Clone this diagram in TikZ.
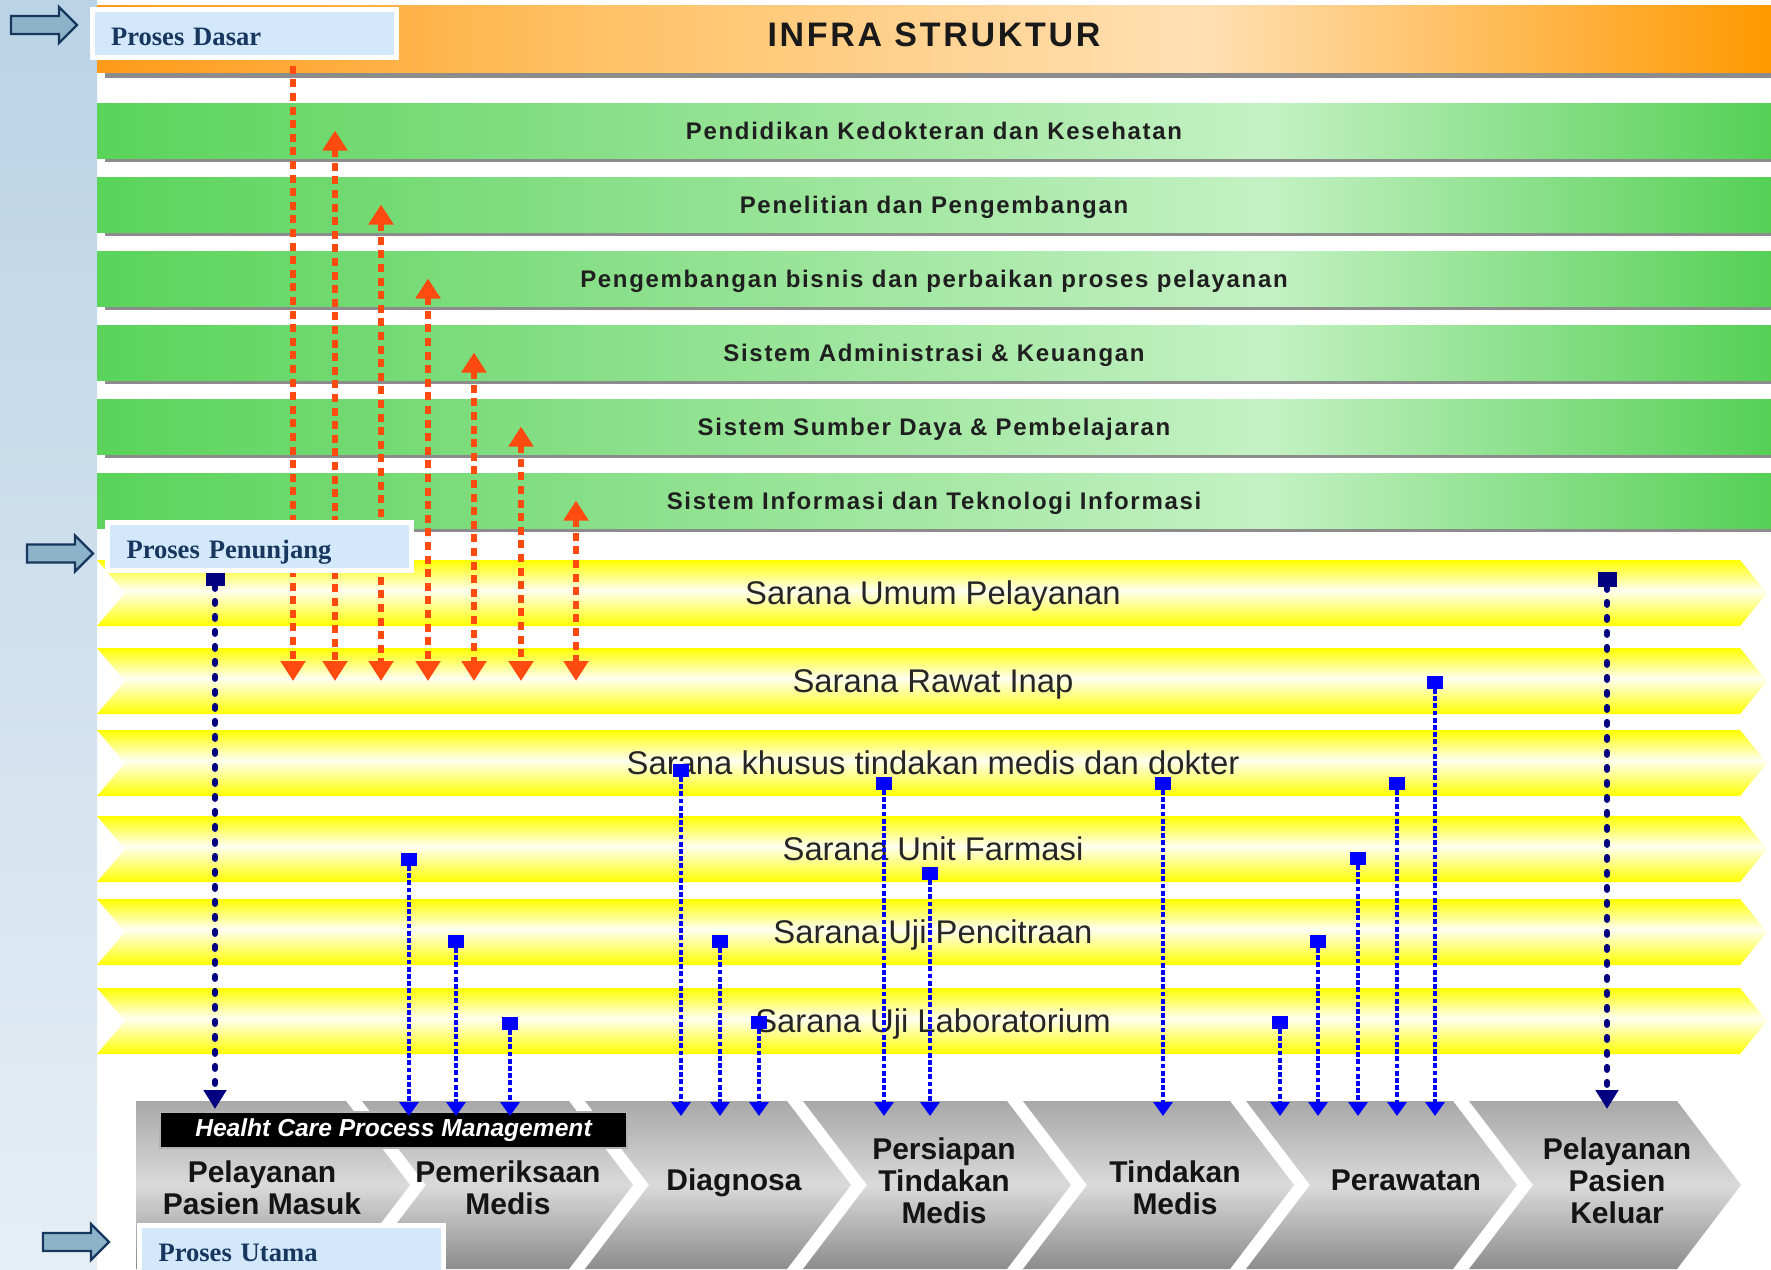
\documentclass[tikz,border=0pt]{standalone}
\usepackage{fontspec}
\setmainfont{Liberation Sans}
\newfontfamily\plainsans{Liberation Sans}
\newfontfamily\spacedsans{Liberation Sans}[LetterSpace=7]
\newfontfamily\infrasans{Liberation Sans}[LetterSpace=8]
\newfontfamily\procserif{Liberation Serif}
\usetikzlibrary{arrows.meta}

\definecolor{panelTop}{HTML}{BAD3E6}
\definecolor{panelBot}{HTML}{E6EEF5}
\definecolor{boxfill}{HTML}{D4E8FB}
\definecolor{navytext}{HTML}{17375E}
\definecolor{arrfill}{HTML}{8DB3C9}
\definecolor{arrline}{HTML}{17375E}
\definecolor{redarr}{HTML}{FF4A10}
\definecolor{navyc}{HTML}{000080}
\definecolor{bluec}{HTML}{0000FF}
\definecolor{shadowc}{HTML}{8C8C8C}
\definecolor{gA}{HTML}{5AD45A}
\definecolor{gB}{HTML}{88DF88}
\definecolor{gC}{HTML}{C4F1C4}
\definecolor{gD}{HTML}{55D055}
\definecolor{oA}{HTML}{FF9A1A}
\definecolor{oB}{HTML}{FFC266}
\definecolor{oC}{HTML}{FFE0B4}
\definecolor{oD}{HTML}{FF9900}
\definecolor{yA}{HTML}{FFFF00}
\definecolor{yM}{HTML}{FFFFF2}
\definecolor{chT}{HTML}{A8A8A8}
\definecolor{chM}{HTML}{DADADA}
\definecolor{chB}{HTML}{8C8C8C}

\pgfdeclarehorizontalshading{greenbar}{100bp}{color(0bp)=(gA); color(25bp)=(gA); color(40bp)=(gB); color(60bp)=(gC); color(75bp)=(gD); color(100bp)=(gD)}
\pgfdeclarehorizontalshading{orangebar}{100bp}{color(0bp)=(oA); color(25bp)=(oA); color(40bp)=(oB); color(58bp)=(oC); color(75bp)=(oD); color(100bp)=(oD)}
\pgfdeclareverticalshading{yellowband}{100bp}{color(0bp)=(yA); color(25bp)=(yA); color(52bp)=(yM); color(75bp)=(yA); color(100bp)=(yA)}
\pgfdeclareverticalshading{chevgrey}{100bp}{color(0bp)=(chB); color(25bp)=(chB); color(50bp)=(chM); color(75bp)=(chT); color(100bp)=(chT)}

\newcommand\blkarrow[2]{%
  \draw[blkarr] (#1,#2-9) -- ++(48,0) -- ++(0,-9) -- ++(18,18) -- ++(-18,18) -- ++(0,-9) -- (#1,#2+9) -- cycle;}

\begin{document}
\begin{tikzpicture}[x=0.5pt,y=-0.5pt,
  redtip/.tip={Triangle[width=12pt,length=10pt]},
  navytip/.tip={Triangle[width=11pt,length=9.5pt]},
  bluetip/.tip={Triangle[width=9.5pt,length=7pt]},
  obar/.style={shade,shading=orangebar,minimum width=837pt,minimum height=33.5pt,inner sep=0pt,
    text height=8.3pt,text depth=0pt,font=\infrasans\bfseries\fontsize{17pt}{19pt}\selectfont,text=black!90,
    preaction={fill=shadowc,transform canvas={xshift=4pt,yshift=-3pt}}},
  gbar/.style={shade,shading=greenbar,minimum width=837pt,minimum height=27.5pt,inner sep=0pt,
    text height=8.6pt,text depth=0pt,font=\spacedsans\bfseries\fontsize{12pt}{14pt}\selectfont,text=black!88,
    preaction={fill=shadowc,transform canvas={xshift=4pt,yshift=-2pt}}},
  ytext/.style={inner sep=0pt,text height=11.7pt,text depth=0pt,font=\plainsans\fontsize{16.4pt}{18pt}\selectfont,text=black!85},
  ctext/.style={inner sep=0pt,align=center,font=\plainsans\bfseries\fontsize{15pt}{16pt}\selectfont,text=black!92},
  hcpm/.style={fill=black,draw=gray!60,line width=0.6pt,minimum width=233.5pt,minimum height=18pt,inner sep=0pt,
    text=white,font=\plainsans\bfseries\itshape\fontsize{12.3pt}{14pt}\selectfont},
  procbox/.style={draw=white,line width=2.5pt,fill=boxfill,minimum width=152pt,minimum height=24pt,
    inner xsep=9.5pt,inner ysep=2pt,text width=133pt,align=left,text height=12pt,text depth=0.5pt,
    text=navytext,font=\procserif\bfseries\fontsize{13.3pt}{15pt}\selectfont},
  blkarr/.style={fill=arrfill,draw=arrline,line width=1.2pt,line join=miter},
  redline/.style={draw=redarr,line width=2.6pt,dash pattern=on 4pt off 2.8pt},
  navyline/.style={draw=navyc,line width=3pt,line cap=round,dash pattern=on 1.5pt off 6pt,-navytip},
  blueline/.style={draw=bluec,line width=1.6pt,dash pattern=on 2.4pt off 1.2pt,-bluetip},
  bsq/.style={fill=bluec,minimum width=8pt,minimum height=6.5pt,inner sep=0pt},
  nsq/.style={fill=navyc,minimum width=9.5pt,minimum height=7.5pt,inner sep=0pt}
]
% canvas
\fill[white] (0,0) rectangle (1771,1269);
\useasboundingbox (0,0) rectangle (1771,1269);
\shade[top color=panelTop,bottom color=panelBot] (0,0) rectangle (97,1269);

% infrastructure bars
\node[obar] (infra) at (934,38.5) {INFRA STRUKTUR};
\node[gbar] (g1) at (934,130.5) {Pendidikan Kedokteran dan Kesehatan};
\node[gbar] (g2) at (934,204.5) {Penelitian dan Pengembangan};
\node[gbar] (g3) at (934,278.5) {Pengembangan bisnis dan perbaikan proses pelayanan};
\node[gbar] (g4) at (934,352.5) {Sistem Administrasi \& Keuangan};
\node[gbar] (g5) at (934,426.5) {Sistem Sumber Daya \& Pembelajaran};
\node[gbar] (g6) at (934,500.5) {Sistem Informasi dan Teknologi Informasi};

% yellow support bands
\foreach \t in {560,648,730,816,899,988}{
  \shade[shading=yellowband] (97,\t) -- (1740,\t) -- (1767,\t+33) -- (1740,\t+66) -- (97,\t+66) -- (125,\t+33) -- cycle;
}
\node[ytext] (y1) at (933,593) {Sarana Umum Pelayanan};
\node[ytext] (y2) at (933,681) {Sarana Rawat Inap};
\node[ytext] (y3) at (933,763) {Sarana khusus tindakan medis dan dokter};
\node[ytext] (y4) at (933,849) {Sarana Unit Farmasi};
\node[ytext] (y5) at (933,932) {Sarana Uji Pencitraan};
\node[ytext] (y6) at (933,1021) {Sarana Uji Laboratorium};

% main process chevrons
\shade[shading=chevgrey] (136,1101) -- (346,1101) -- (410,1185) -- (346,1269) -- (136,1269) -- cycle;
\foreach \xl/\xr in {362/569, 585/787, 803/1007, 1023/1230, 1246/1453, 1469/1677}{
  \shade[shading=chevgrey] (\xl,1101) -- (\xr,1101) -- (\xr+64,1185) -- (\xr,1269) -- (\xl,1269) -- (\xl+64,1185) -- cycle;
}
\node[ctext] (c1) at (262,1188) {Pelayanan\\Pasien Masuk};
\node[ctext] (c2) at (508,1188) {Pemeriksaan\\Medis};
\node[ctext] (c3) at (734,1183) {Diagnosa};
\node[ctext] (c4) at (944,1181) {Persiapan\\Tindakan\\Medis};
\node[ctext] (c5) at (1175,1188) {Tindakan\\Medis};
\node[ctext] (c6) at (1406,1180) {Perawatan};
\node[ctext] (c7) at (1617,1181) {Pelayanan\\Pasien\\Keluar};
\node[hcpm] (hcpm) at (393.5,1130) {Healht Care Process Management};

% red support arrows
\foreach \n/\x in {1/293,2/335,3/381,4/428,5/474,6/521,7/576}{
  \coordinate (rx\n) at (\x,0);
}
\draw[redline,-redtip] (infra.center -| rx1) -- (y2 -| rx1);
\draw[redline,redtip-redtip] (g1 -| rx2) -- (y2 -| rx2);
\draw[redline,redtip-redtip] (g2 -| rx3) -- (y2 -| rx3);
\draw[redline,redtip-redtip] (g3 -| rx4) -- (y2 -| rx4);
\draw[redline,redtip-redtip] (g4 -| rx5) -- (y2 -| rx5);
\draw[redline,redtip-redtip] (g5 -| rx6) -- (y2 -| rx6);
\draw[redline,redtip-redtip] (g6 -| rx7) -- (y2 -| rx7);

% arrow end levels at the process row
\coordinate (navyend) at (0,1109);
\coordinate (blueend) at (0,1116);

% navy connectors
\node[nsq] (n1) at (215,578) {};
\node[nsq] (n2) at (1607,579) {};
\draw[navyline] (n1.south) -- (n1 |- navyend);
\draw[navyline] (n2.south) -- (n2 |- navyend);

% blue connectors
\foreach \n/\x/\y in {1/409/859, 2/456/941, 3/510/1023, 4/681/770, 5/720/941, 6/759/1022, 7/884/783,
  8/930/873, 9/1163/783, 10/1280/1022, 11/1318/941, 12/1358/858, 13/1397/783, 14/1435/682}{
  \node[bsq] (b\n) at (\x,\y) {};
  \draw[blueline] (b\n.south) -- (b\n |- blueend);
}

% level labels
\node[procbox] (pdasar) at (244,33.5) {Proses Dasar};
\node[procbox] (ppenunjang) at (259.5,546.5) {Proses Penunjang};
\node[procbox] (putama) at (291.5,1249.5) {Proses Utama};
\blkarrow{11}{25}
\blkarrow{27}{553.5}
\blkarrow{43}{1242}
\end{tikzpicture}
\end{document}
